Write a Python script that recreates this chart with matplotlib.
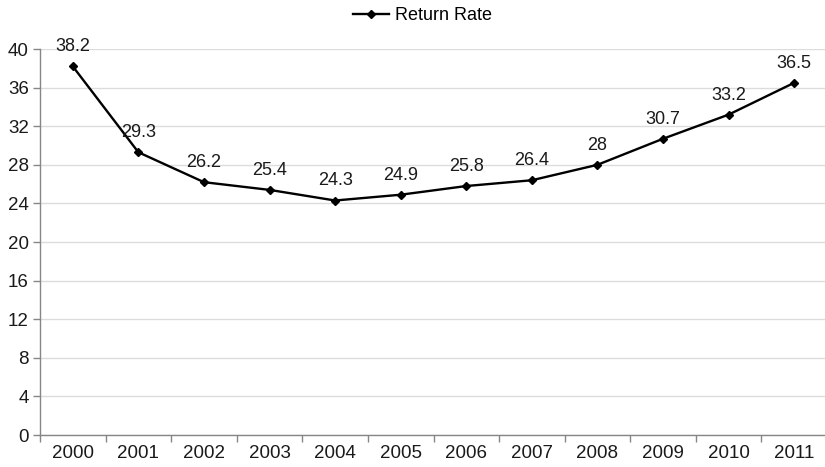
import matplotlib
matplotlib.use("Agg")
import matplotlib.pyplot as plt
import numpy as np

years = ["2000", "2001", "2002", "2003", "2004", "2005",
         "2006", "2007", "2008", "2009", "2010", "2011"]
return_rate = [38.2, 29.3, 26.2, 25.4, 24.3, 24.9, 25.8, 26.4, 28, 30.7, 33.2, 36.5]
y_ticks = [0, 4, 8, 12, 16, 20, 24, 28, 32, 36, 40]

plt.rcParams['font.family'] = ['Liberation Sans', 'DejaVu Sans']

fig = plt.figure(figsize=(8.25, 4.67), dpi=100)
ax = fig.add_axes([40 / 825, 1 - 435 / 467, 787 / 825, 386 / 467])

x = np.arange(len(years))
line, = ax.plot(x, return_rate, color="black", lw=1.7, marker="D", ms=4.5,
                label="Return Rate", zorder=3)

for xi, v in zip(x, return_rate):
    ax.annotate(f"{v:g}", (xi, v), xytext=(0, 8), textcoords="offset points",
                ha="center", va="bottom", fontsize=13, color="#1a1a1a")

ax.set_xlim(-0.5, len(years) - 0.5)
ax.set_ylim(0, 40)
ax.set_yticks(y_ticks)
ax.set_xticks(x)
ax.set_xticklabels(years)
ax.set_xticks(np.arange(-0.5, len(years), 1.0), minor=True)
ax.tick_params(axis="x", which="major", length=0, labelsize=13.5, pad=7,
               labelcolor="#1a1a1a")
ax.tick_params(axis="x", which="minor", length=5, color="#868686", width=1)
ax.tick_params(axis="y", length=5, color="#868686", width=1, labelsize=13.5,
               pad=3, labelcolor="#1a1a1a")

ax.grid(axis="y", color="#dcdcdc", lw=1)
ax.set_axisbelow(True)
for side in ("top", "right"):
    ax.spines[side].set_visible(False)
for side in ("left", "bottom"):
    ax.spines[side].set_color("#868686")
    ax.spines[side].set_linewidth(1)

fig.legend(handles=[line], loc="upper center", bbox_to_anchor=(0.512, 1.0),
           frameon=False, fontsize=13, handlelength=2.0, handletextpad=0.3,
           borderaxespad=0.0)

fig.savefig("out.png", dpi=100)
